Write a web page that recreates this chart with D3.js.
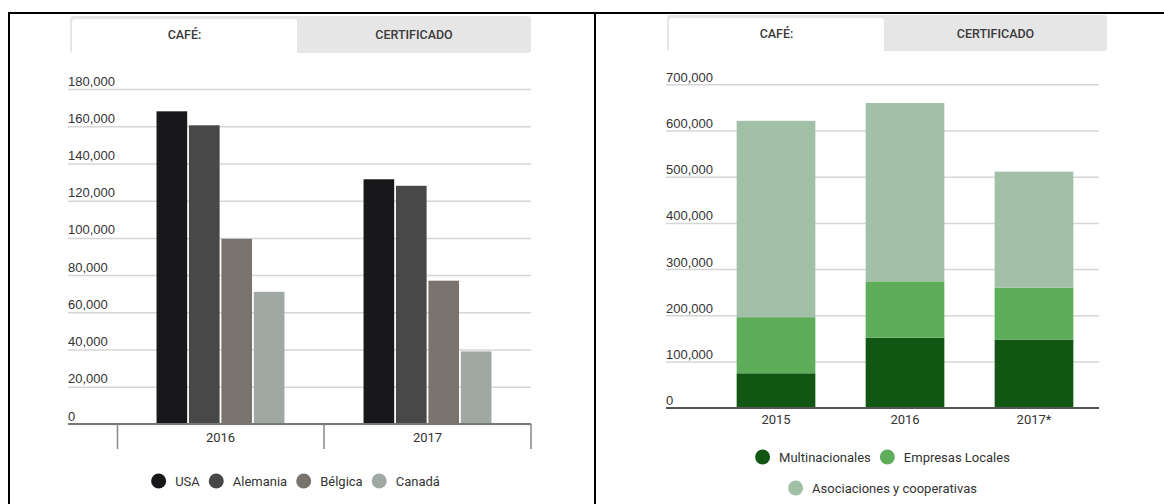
<!DOCTYPE html>
<html>
<head>
<meta charset="utf-8">
<script src="https://cdn.jsdelivr.net/npm/d3@7"></script>
<style>
  body { margin: 0; background: #fff; }
  svg { display: block; font-family: Roboto, "Noto Sans", sans-serif; }
</style>
</head>
<body>
<svg id="chart" width="1164" height="504"></svg>
<script>
// left panel: coffee by country
const countries = ["USA", "Alemania", "Bélgica", "Canadá"];
const countryYears = ["2016", "2017"];
const cafeUSA = [168000, 131500];
const cafeAlemania = [160500, 128000];
const cafeBelgica = [99500, 77000];
const cafeCanada = [71000, 39000];
const countryColors = ["#18181a", "#484848", "#78746d", "#9fa8a3"];

// right panel: certified coffee by type of exporter
const certYears = ["2015", "2016", "2017*"];
const exporters = ["Multinacionales", "Empresas Locales", "Asociaciones y cooperativas"];
const multinacionales = [74500, 151500, 147500];
const empresasLocales = [121500, 122000, 112500];
const asociaciones = [425000, 386000, 251000];
const exporterColors = ["#115713", "#5dad5b", "#a2bfa7"];

const tabLabels = ["CAFÉ:", "CERTIFICADO"];

const svg = d3.select("#chart");
const fmt = d3.format(",");

// frame lines
svg.append("path")
  .attr("d", "M8,13H1164M9,12V504M595,12V504")
  .attr("stroke", "#000").attr("stroke-width", 2).attr("fill", "none");

function tabs(x0, x1, xm, y0, y1) {
  const g = svg.append("g");
  g.append("rect").attr("x", x0).attr("y", y0).attr("width", x1 - x0).attr("height", y1 - y0)
    .attr("rx", 3).attr("fill", "#e6e6e6");
  const r = 3, tx = x0 + 2, ty = y0 + 3;
  g.append("path")
    .attr("d", `M${tx},${y1}V${ty + r}Q${tx},${ty} ${tx + r},${ty}H${xm - r}Q${xm},${ty} ${xm},${ty + r}V${y1}Z`)
    .attr("fill", "#fff");
  g.selectAll("text").data(tabLabels).join("text")
    .attr("x", (d, i) => i === 0 ? (tx + xm) / 2 : (xm + x1) / 2)
    .attr("y", (y0 + y1) / 2 + 4.5)
    .attr("text-anchor", "middle")
    .attr("font-size", 12.5).attr("font-weight", 500).attr("fill", "#3a3a3a")
    .text(d => d);
}

function legend(names, colors, left, width, firstY, rowGap) {
  const g = svg.append("g").attr("font-size", 13).attr("fill", "#333");
  const items = names.map((n, i) => {
    const t = g.append("text").text(n);
    const w = t.node().getComputedTextLength();
    return { n, c: colors[i], t, w: 15 + 9 + w };
  });
  const rows = [[]];
  let cur = 0;
  items.forEach(it => {
    const add = (rows[rows.length - 1].length ? 9 : 0) + it.w;
    if (cur + add > width && rows[rows.length - 1].length) { rows.push([it]); cur = it.w; }
    else { rows[rows.length - 1].push(it); cur += add; }
  });
  rows.forEach((row, ri) => {
    const total = d3.sum(row, d => d.w) + 9 * (row.length - 1);
    let x = left + (width - total) / 2;
    const cy = firstY + ri * rowGap;
    row.forEach(it => {
      g.append("circle").attr("cx", x + 7.5).attr("cy", cy).attr("r", 7.5).attr("fill", it.c);
      it.t.attr("x", x + 24).attr("y", cy + 4.5);
      x += it.w + 9;
    });
  });
}

// ---------- left: grouped bars ----------
{
  tabs(70, 531, 297, 16, 53);
  const y = d3.scaleLinear().domain([0, 180000]).range([424, 89]);
  const x0 = d3.scaleBand().domain(countryYears).range([117, 531]).paddingInner(0.382).paddingOuter(0.191);
  const x1 = d3.scaleBand().domain(countries).range([0, x0.bandwidth()]).paddingInner(0.055);
  const series = [cafeUSA, cafeAlemania, cafeBelgica, cafeCanada];

  const grid = svg.append("g").attr("transform", "translate(68,0)")
    .call(d3.axisLeft(y).tickValues(d3.range(0, 180001, 20000)).tickSize(-463).tickFormat(fmt));
  grid.select(".domain").remove();
  grid.selectAll(".tick line").attr("stroke", "#d6d6d6").attr("stroke-width", 1.5);
  grid.selectAll(".tick text").attr("x", 0).attr("dy", -4).attr("text-anchor", "start")
    .attr("font-size", 13).attr("fill", "#333").attr("font-family", null);

  countryYears.forEach((yr, yi) => {
    svg.append("g").selectAll("rect").data(countries).join("rect")
      .attr("x", c => x0(yr) + x1(c))
      .attr("y", (c, ci) => y(series[ci][yi]))
      .attr("width", x1.bandwidth())
      .attr("height", (c, ci) => y(0) - y(series[ci][yi]))
      .attr("fill", (c, ci) => countryColors[ci]);
  });

  const xa = svg.append("g").attr("transform", "translate(0,424)");
  xa.append("line").attr("x1", 68).attr("x2", 531).attr("stroke", "#777").attr("stroke-width", 2);
  const edges = [117.5].concat(countryYears.map(d => x0(d) + x0.bandwidth() / 2 + x0.step() / 2));
  xa.selectAll(".t").data(edges).join("line").attr("class", "t")
    .attr("x1", d => d).attr("x2", d => d).attr("y1", 0).attr("y2", 25)
    .attr("stroke", "#888").attr("stroke-width", 1.5);
  xa.selectAll("text").data(countryYears).join("text")
    .attr("x", d => x0(d) + x0.bandwidth() / 2).attr("y", 17.5)
    .attr("text-anchor", "middle").attr("font-size", 13).attr("fill", "#333").text(d => d);

  legend(countries, countryColors, 64, 463, 481, 31);
}

// ---------- right: stacked bars ----------
{
  tabs(667, 1107, 884, 15, 51);
  const y = d3.scaleLinear().domain([0, 700000]).range([407.7, 84.3]);
  const x = d3.scaleBand().domain(certYears).range([711.5, 1098.5]).paddingInner(0.39).paddingOuter(0.195);
  const rows = certYears.map((yr, i) => ({ yr, m: multinacionales[i], e: empresasLocales[i], a: asociaciones[i] }));
  const stack = d3.stack().keys(["m", "e", "a"])(rows);

  const grid = svg.append("g").attr("transform", "translate(666,0)")
    .call(d3.axisLeft(y).tickValues(d3.range(0, 700001, 100000)).tickSize(-433).tickFormat(fmt));
  grid.select(".domain").remove();
  grid.selectAll(".tick line").attr("stroke", "#d6d6d6").attr("stroke-width", 1.5);
  grid.selectAll(".tick text").attr("x", 0).attr("dy", -3).attr("text-anchor", "start")
    .attr("font-size", 13).attr("fill", "#333").attr("font-family", null);

  svg.append("g").selectAll("g").data(stack).join("g")
    .attr("fill", (d, i) => exporterColors[i])
    .selectAll("rect").data(d => d).join("rect")
    .attr("x", d => x(d.data.yr))
    .attr("y", d => y(d[1]))
    .attr("width", x.bandwidth())
    .attr("height", d => y(d[0]) - y(d[1]));

  const xa = svg.append("g").attr("transform", "translate(0,408)");
  xa.append("line").attr("x1", 666).attr("x2", 1099).attr("stroke", "#555").attr("stroke-width", 2);
  xa.selectAll("text").data(certYears).join("text")
    .attr("x", d => x(d) + x.bandwidth() / 2).attr("y", 16)
    .attr("text-anchor", "middle").attr("font-size", 13).attr("fill", "#333").text(d => d);

  legend(exporters, exporterColors, 666, 433, 457, 31);
}
</script>
</body>
</html>
